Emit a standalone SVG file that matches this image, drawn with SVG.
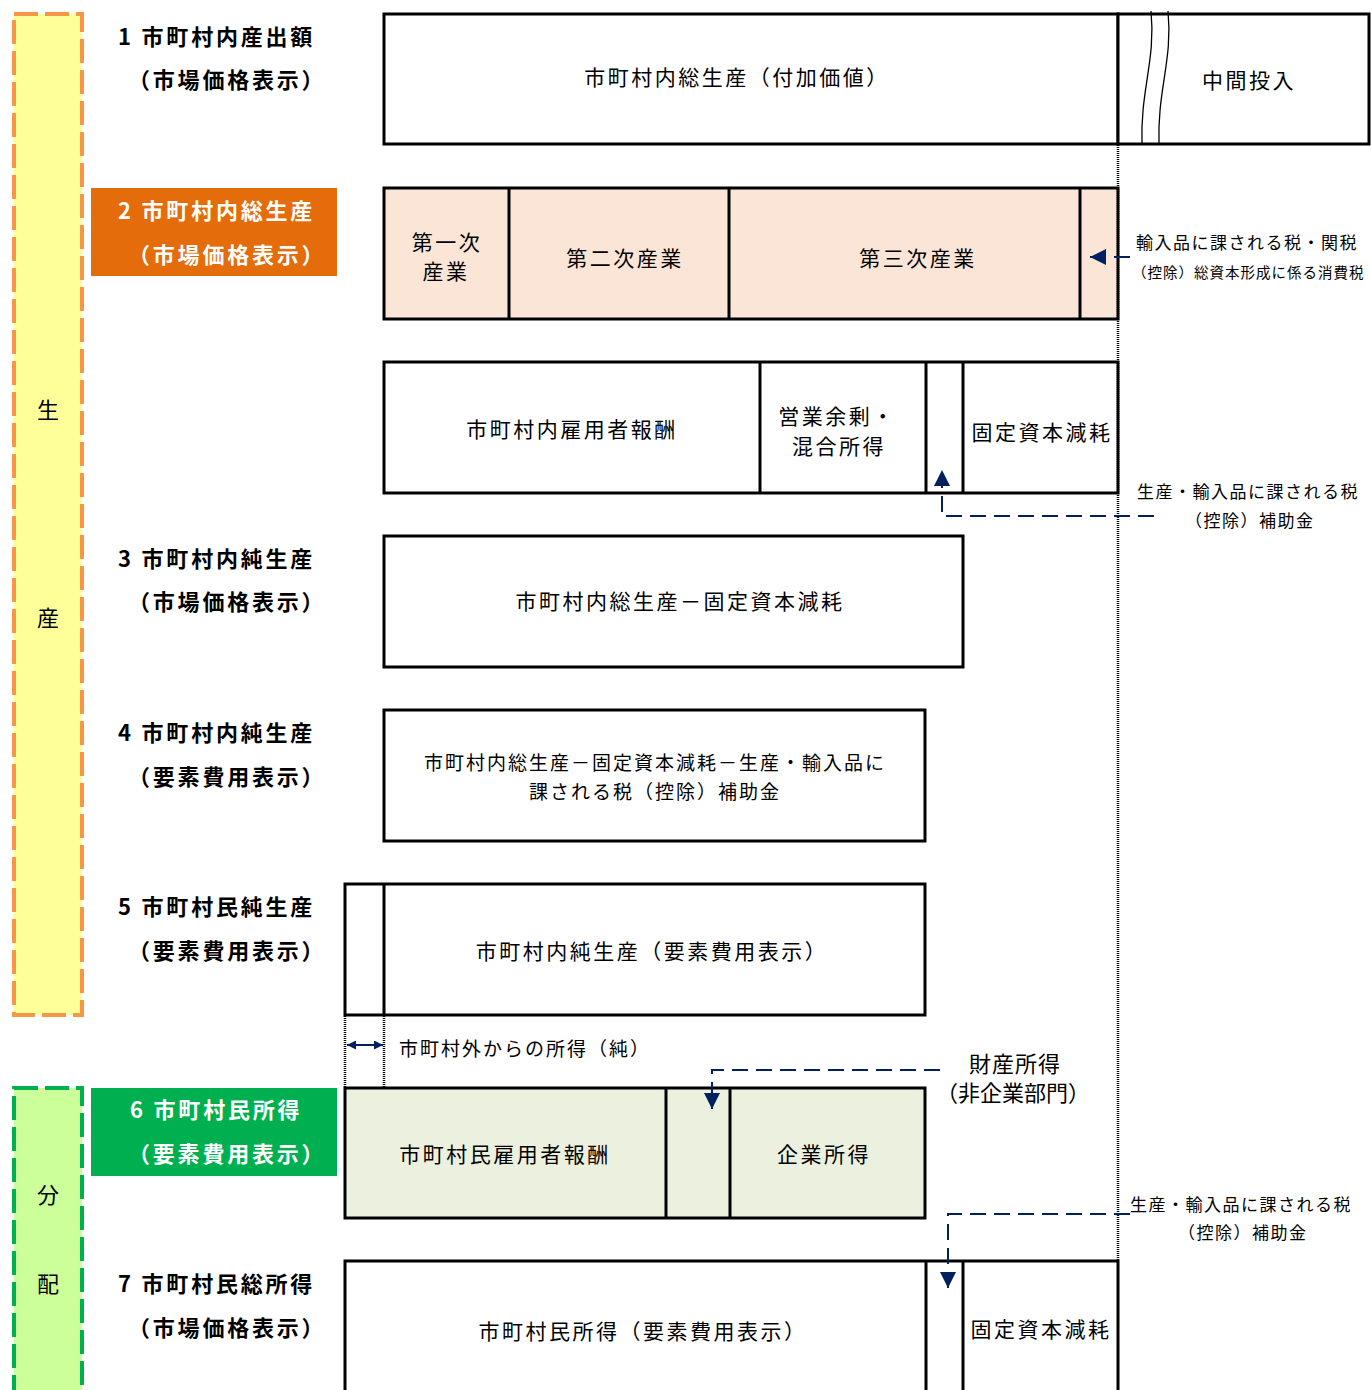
<svg xmlns="http://www.w3.org/2000/svg" width="1371" height="1390" viewBox="0 0 1371 1390">
<defs>
<style>
.t{font-family:"Noto Sans CJK JP","Noto Sans",sans-serif;font-size:21px;letter-spacing:2.5px;fill:#000;text-anchor:middle}
.lb{font-family:"Noto Sans CJK JP","Noto Sans",sans-serif;font-size:22px;font-weight:bold;letter-spacing:2.8px;fill:#000}
.lw{fill:#fff}
.s{font-family:"Noto Sans CJK JP","Noto Sans",sans-serif;font-size:17px;letter-spacing:1.5px;fill:#000}
.xs{font-family:"Noto Sans CJK JP","Noto Sans",sans-serif;font-size:14.5px;letter-spacing:1px;fill:#000}
.m{font-family:"Noto Sans CJK JP","Noto Sans",sans-serif;font-size:19px;letter-spacing:2px;fill:#000}
.box{fill:#fff;stroke:#000;stroke-width:3}
.dv{stroke:#000;stroke-width:3}
.dot{stroke:#000;stroke-width:2.5;stroke-dasharray:1 1;fill:none}
.ar{stroke:#002060;stroke-width:2;fill:none;stroke-dasharray:16 8}
</style>
<marker id="ahb" viewBox="0 0 10 10" refX="10" refY="5" markerWidth="16" markerHeight="16" markerUnits="userSpaceOnUse" orient="auto">
<path d="M0,0 L10,5 L0,10 Z" fill="#002060"/>
</marker>
<marker id="ahs" viewBox="0 0 10 10" refX="10" refY="5" markerWidth="9" markerHeight="9" markerUnits="userSpaceOnUse" orient="auto-start-reverse">
<path d="M0,0 L10,5 L0,10 Z" fill="#002060"/>
</marker>
</defs>
<rect width="1371" height="1390" fill="#fff"/>

<g id="panel-production">
<rect x="14" y="14" width="68" height="1001" fill="#FFFF99" stroke="#F79646" stroke-width="4" stroke-dasharray="24 7"/>
<text class="t" x="48" y="418" style="letter-spacing:0;font-size:22px">生</text>
<text class="t" x="48" y="626" style="letter-spacing:0;font-size:22px">産</text>
</g>
<g id="panel-distribution">
<rect x="14" y="1088" width="68" height="320" fill="#CCFF99" stroke="#00B050" stroke-width="4" stroke-dasharray="24 7"/>
<text class="t" x="48" y="1203" style="letter-spacing:0;font-size:22px">分</text>
<text class="t" x="48" y="1292" style="letter-spacing:0;font-size:22px">配</text>
</g>

<g id="label-1">
<text class="lb" x="118" y="45">1 市町村内産出額</text>
<text class="lb" x="128" y="88">（市場価格表示）</text>
</g>
<g id="label-2">
<rect x="91" y="188" width="246" height="88" fill="#E46C0A"/>
<text class="lb lw" x="118" y="219">2 市町村内総生産</text>
<text class="lb lw" x="128" y="263">（市場価格表示）</text>
</g>
<g id="label-3">
<text class="lb" x="118" y="567">3 市町村内純生産</text>
<text class="lb" x="128" y="610">（市場価格表示）</text>
</g>
<g id="label-4">
<text class="lb" x="118" y="741">4 市町村内純生産</text>
<text class="lb" x="128" y="785">（要素費用表示）</text>
</g>
<g id="label-5">
<text class="lb" x="118" y="915">5 市町村民純生産</text>
<text class="lb" x="128" y="959">（要素費用表示）</text>
</g>
<g id="label-6">
<rect x="91" y="1088" width="246" height="88" fill="#00B050"/>
<text class="lb lw" x="130" y="1118">6 市町村民所得</text>
<text class="lb lw" x="128" y="1162">（要素費用表示）</text>
</g>
<g id="label-7">
<text class="lb" x="118" y="1292">7 市町村民総所得</text>
<text class="lb" x="128" y="1336">（市場価格表示）</text>
</g>

<g id="box-1">
<rect class="box" x="384" y="14" width="734" height="130"/>
<rect class="box" x="1118" y="14" width="251" height="130"/>
<path d="M1151,11 C1156,60 1140,90 1142,145 M1168,11 C1173,60 1157,90 1159,145" fill="none" stroke="#000" stroke-width="1.3"/>
<text class="t" x="737" y="85">市町村内総生産（付加価値）</text>
<text class="t" x="1249" y="88">中間投入</text>
</g>

<g id="box-2">
<rect x="384" y="188" width="734" height="131" fill="#FBE5D6" stroke="#000" stroke-width="3"/>
<line class="dv" x1="509" y1="188" x2="509" y2="319"/>
<line class="dv" x1="729" y1="188" x2="729" y2="319"/>
<line class="dv" x1="1080" y1="188" x2="1080" y2="319"/>
<text class="t" x="447" y="250">第一次</text>
<text class="t" x="446" y="279">産業</text>
<text class="t" x="625" y="266">第二次産業</text>
<text class="t" x="918" y="266">第三次産業</text>
</g>

<g id="box-2b">
<rect class="box" x="384" y="362" width="734" height="131"/>
<line class="dv" x1="760" y1="362" x2="760" y2="493"/>
<line class="dv" x1="926" y1="362" x2="926" y2="493"/>
<line class="dv" x1="963" y1="362" x2="963" y2="493"/>
<text class="t" x="572" y="437">市町村内雇用者報酬</text>
<text class="t" x="837" y="424">営業余剰・</text>
<text class="t" x="839" y="454">混合所得</text>
<text class="t" x="1042" y="440">固定資本減耗</text>
</g>

<g id="box-3">
<rect class="box" x="384" y="536" width="579" height="131"/>
<text class="t" x="680" y="609">市町村内総生産－固定資本減耗</text>
</g>

<g id="box-4">
<rect class="box" x="384" y="710" width="541" height="131"/>
<text class="m" x="655" y="770" text-anchor="middle">市町村内総生産－固定資本減耗－生産・輸入品に</text>
<text class="m" x="655" y="799" text-anchor="middle">課される税（控除）補助金</text>
</g>

<g id="box-5">
<rect class="box" x="345" y="884" width="580" height="131"/>
<line class="dv" x1="384" y1="884" x2="384" y2="1015"/>
<text class="t" x="652" y="959">市町村内純生産（要素費用表示）</text>
</g>

<g id="box-6">
<rect x="345" y="1088" width="580" height="130" fill="#EBF1DE" stroke="#000" stroke-width="3"/>
<line class="dv" x1="666" y1="1088" x2="666" y2="1218"/>
<line class="dv" x1="730" y1="1088" x2="730" y2="1218"/>
<text class="t" x="505" y="1162">市町村民雇用者報酬</text>
<text class="t" x="824" y="1162">企業所得</text>
</g>

<g id="box-7">
<rect class="box" x="345" y="1261" width="773" height="160"/>
<line class="dv" x1="926" y1="1261" x2="926" y2="1390"/>
<line class="dv" x1="963" y1="1261" x2="963" y2="1390"/>
<text class="t" x="643" y="1339">市町村民所得（要素費用表示）</text>
<text class="t" x="1041" y="1337">固定資本減耗</text>
</g>

<g id="annotations">
<text class="s" x="1136" y="249">輸入品に課される税・関税</text>
<text class="xs" x="1132" y="278">（控除）総資本形成に係る消費税</text>
<text class="s" x="1137" y="498">生産・輸入品に課される税</text>
<text class="s" x="1185" y="527">（控除）補助金</text>
<text class="m" x="399" y="1056">市町村外からの所得（純）</text>
<text class="t" x="1015" y="1072" style="font-size:22px;letter-spacing:1px">財産所得</text>
<text class="t" x="1013" y="1101" style="font-size:22px;letter-spacing:0px">（非企業部門）</text>
<text class="s" x="1130" y="1211">生産・輸入品に課される税</text>
<text class="s" x="1178" y="1239">（控除）補助金</text>
</g>

<g id="connectors">
<line class="dot" x1="1118" y1="145" x2="1118" y2="1261"/>
<line class="dot" x1="345" y1="1016" x2="345" y2="1088"/>
<line class="dot" x1="384" y1="1016" x2="384" y2="1088"/>
<path class="ar" d="M1130,257 H1090" marker-end="url(#ahb)" stroke-dasharray="15 9"/>
<path class="ar" d="M1154,516 H942 V470" marker-end="url(#ahb)"/>
<path class="ar" d="M940,1070 H712 V1109" marker-end="url(#ahb)"/>
<path class="ar" d="M1130,1214 H948 V1288" marker-end="url(#ahb)"/>
<path d="M347,1045 H383" stroke="#002060" stroke-width="2" fill="none" marker-start="url(#ahs)" marker-end="url(#ahs)"/>
</g>
</svg>
